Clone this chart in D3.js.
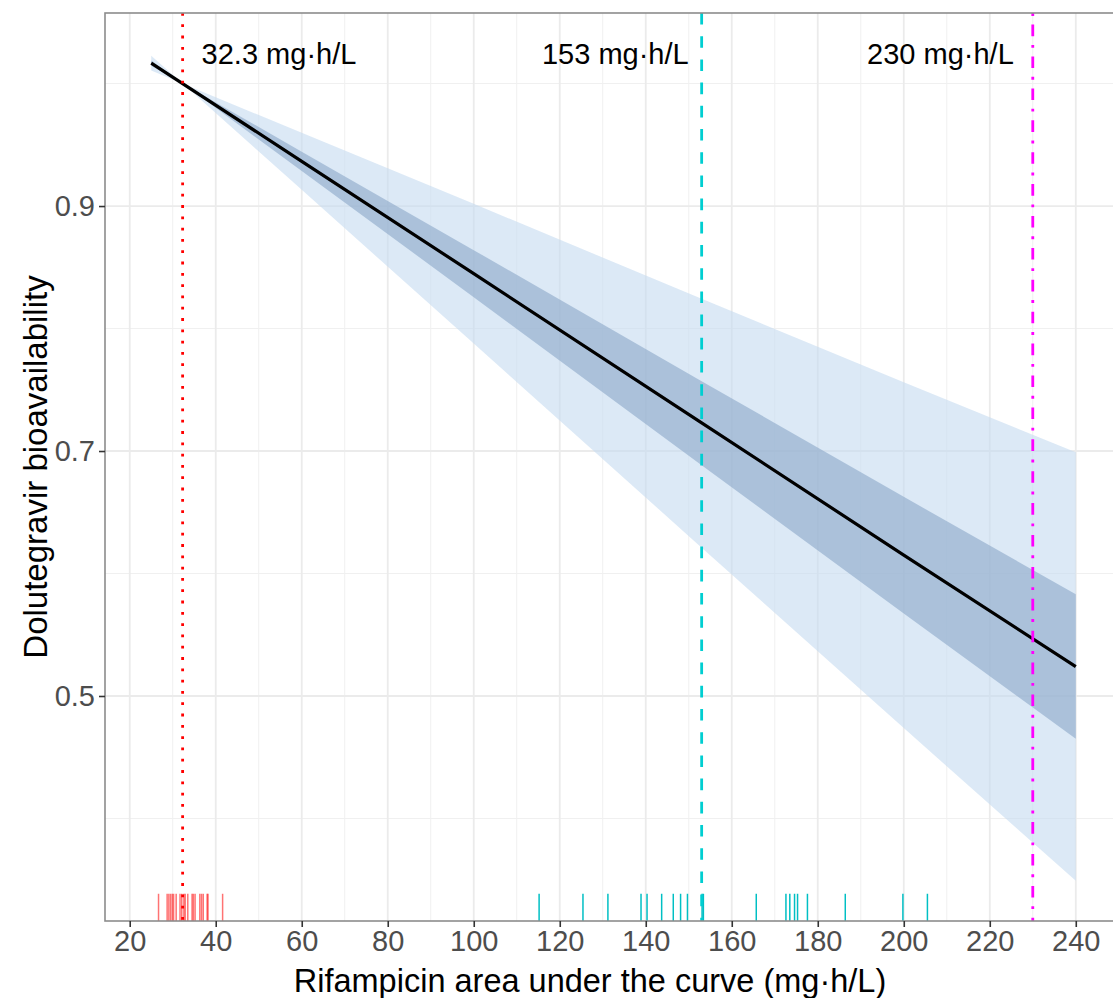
<!DOCTYPE html>
<html>
<head>
<meta charset="utf-8">
<script src="https://cdn.jsdelivr.net/npm/d3@7"></script>
<style>
  html, body { margin: 0; padding: 0; background: #fff; }
  svg { display: block; font-family: "Liberation Sans", Arial, Helvetica, sans-serif; }
</style>
</head>
<body>
<svg id="chart" width="1113" height="998"></svg>
<script>
// ---- data ----
const auc      = [25, 32.3, 60, 100, 153, 200, 240];
const fMedian  = [1.0167, 1.000, 0.9365, 0.8448, 0.7230, 0.6150, 0.5240];
const outerLow = [1.0106, 1.000, 0.9132, 0.7878, 0.6211, 0.4738, 0.3491];
const outerHigh= [1.0228, 1.000, 0.9598, 0.9018, 0.8243, 0.7562, 0.6989];
const innerLow = [1.0146, 1.000, 0.9286, 0.8256, 0.6884, 0.5674, 0.4650];
const innerHigh= [1.0188, 1.000, 0.9444, 0.8640, 0.7570, 0.6626, 0.5830];

const rugRed  = [26.7, 28.7, 29.1, 29.5, 29.9, 30.2, 30.8, 31.7, 32.1, 32.6, 32.9, 33.5,
                 34.5, 34.8, 35.2, 36.3, 36.7, 37.1, 38.0, 38.2, 41.6];
const rugCyan = [115.2, 125.4, 131.2, 138.9, 140.3, 143.7, 146.4, 148.1, 149.7, 153.1, 153.4,
                 165.7, 172.6, 173.5, 174.6, 175.3, 177.6, 186.4, 199.8, 205.5];

const refLines  = [32.3, 153, 230];
const refLabels = ["32.3 mg·h/L", "153 mg·h/L", "230 mg·h/L"];

const xTicks = [20, 40, 60, 80, 100, 120, 140, 160, 180, 200, 220, 240];
const xMinor = [30, 50, 70, 90, 110, 130, 150, 170, 190, 210, 230, 250];
const yTicks = [0.5, 0.7, 0.9];
const yTickLabels = ["0.5", "0.7", "0.9"];
const yMinor = [0.4, 0.6, 0.8, 1.0];

// ---- layout ----
const W = 1113, H = 998;
const P = { left: 105, top: 13, right: 1122, bottom: 921 };

const xDomain = [14.25, 250.75];
const yDomain = [0.3163, 1.0576];
const x = d3.scaleLinear().domain(xDomain).range([P.left, P.right]);
const y = d3.scaleLinear().domain(yDomain).range([P.bottom, P.top]);

const svg = d3.select("#chart");
svg.append("defs").append("clipPath").attr("id", "panel")
  .append("rect").attr("x", P.left).attr("y", P.top)
  .attr("width", P.right - P.left).attr("height", P.bottom - P.top);

const g = svg.append("g").attr("clip-path", "url(#panel)");

// grid
g.selectAll(".ymin").data(yMinor).join("line")
  .attr("x1", P.left).attr("x2", P.right)
  .attr("y1", d => y(d)).attr("y2", d => y(d))
  .attr("stroke", "#F0F0F0").attr("stroke-width", 1);
g.selectAll(".xmin").data(xMinor).join("line")
  .attr("y1", P.top).attr("y2", P.bottom)
  .attr("x1", d => x(d)).attr("x2", d => x(d))
  .attr("stroke", "#F0F0F0").attr("stroke-width", 1);
g.selectAll(".ymaj").data(yTicks).join("line")
  .attr("x1", P.left).attr("x2", P.right)
  .attr("y1", d => y(d)).attr("y2", d => y(d))
  .attr("stroke", "#EBEBEB").attr("stroke-width", 1.8);
g.selectAll(".xmaj").data(xTicks).join("line")
  .attr("y1", P.top).attr("y2", P.bottom)
  .attr("x1", d => x(d)).attr("x2", d => x(d))
  .attr("stroke", "#EBEBEB").attr("stroke-width", 1.8);

// ribbons
const idx = d3.range(auc.length);
const area = (lo, hi) => d3.area()
  .x(i => x(auc[i])).y0(i => y(lo[i])).y1(i => y(hi[i]));
g.append("path").attr("d", area(outerLow, outerHigh)(idx))
  .attr("fill", "#C6DBF0").attr("fill-opacity", 0.62);
g.append("path").attr("d", area(innerLow, innerHigh)(idx))
  .attr("fill", "#8AA6C8").attr("fill-opacity", 0.6);

// median line
g.append("path")
  .attr("d", d3.line().x(i => x(auc[i])).y(i => y(fMedian[i]))(idx))
  .attr("fill", "none").attr("stroke", "#000").attr("stroke-width", 3.2);

// rugs
const rugLen = 0.03 * (P.bottom - P.top);
g.selectAll(".rugR").data(rugRed).join("line")
  .attr("x1", d => x(d)).attr("x2", d => x(d))
  .attr("y1", P.bottom).attr("y2", P.bottom - rugLen)
  .attr("stroke", "#FF0000").attr("stroke-opacity", 0.55).attr("stroke-width", 1.5);
g.selectAll(".rugC").data(rugCyan).join("line")
  .attr("x1", d => x(d)).attr("x2", d => x(d))
  .attr("y1", P.bottom).attr("y2", P.bottom - rugLen)
  .attr("stroke", "#00BFC4").attr("stroke-width", 1.5);

// reference lines
const refStyles = [
  { color: "#FF0000", dash: "2.8 8.5" },
  { color: "#00CED1", dash: "11.6 11.6" },
  { color: "#FF00FF", dash: "2.9 8.7 11.6 8.7" }
];
g.selectAll(".ref").data(refLines).join("line")
  .attr("x1", d => x(d)).attr("x2", d => x(d))
  .attr("y1", P.top).attr("y2", P.bottom)
  .attr("stroke", (d, i) => refStyles[i].color)
  .attr("stroke-width", 2.8)
  .attr("stroke-dasharray", (d, i) => refStyles[i].dash);

// reference labels
const labelAnchor = ["start", "end", "end"];
const labelOffset = [19, -13, -19];
svg.selectAll(".reflab").data(refLines).join("text")
  .attr("x", (d, i) => x(d) + labelOffset[i])
  .attr("y", 64)
  .attr("text-anchor", (d, i) => labelAnchor[i])
  .attr("font-size", 29).attr("fill", "#000")
  .text((d, i) => refLabels[i]);

// panel border
svg.append("rect").attr("x", P.left).attr("y", P.top)
  .attr("width", P.right - P.left).attr("height", P.bottom - P.top)
  .attr("fill", "none").attr("stroke", "#8C8C8C").attr("stroke-width", 1.6);

// axes
const xAxis = d3.axisBottom(x).tickValues(xTicks).tickSize(6).tickPadding(3);
const xg = svg.append("g").attr("transform", `translate(0,${P.bottom})`).call(xAxis);
xg.select(".domain").remove();
xg.selectAll(".tick line").attr("stroke", "#333").attr("stroke-width", 1.6);
xg.selectAll(".tick text").attr("font-size", 29).attr("fill", "#4D4D4D")
  .attr("font-family", "Liberation Sans, Arial, sans-serif");

const yAxis = d3.axisLeft(y).tickValues(yTicks).tickFormat((d, i) => yTickLabels[i])
  .tickSize(6).tickPadding(4);
const yg = svg.append("g").attr("transform", `translate(${P.left},0)`).call(yAxis);
yg.select(".domain").remove();
yg.selectAll(".tick line").attr("stroke", "#333").attr("stroke-width", 1.6);
yg.selectAll(".tick text").attr("font-size", 29).attr("fill", "#4D4D4D")
  .attr("font-family", "Liberation Sans, Arial, sans-serif");

// axis titles
svg.append("text").attr("x", 590).attr("y", 992)
  .attr("text-anchor", "middle").attr("font-size", 32.5).attr("fill", "#000")
  .text("Rifampicin area under the curve (mg·h/L)");
svg.append("text")
  .attr("transform", `translate(47,${(P.top + P.bottom) / 2}) rotate(-90)`)
  .attr("text-anchor", "middle").attr("font-size", 33).attr("fill", "#000")
  .text("Dolutegravir bioavailability");
</script>
</body>
</html>
